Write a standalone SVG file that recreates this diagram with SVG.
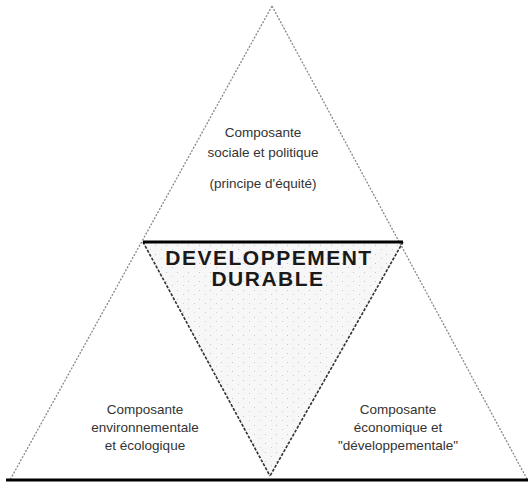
<svg xmlns="http://www.w3.org/2000/svg" width="528" height="483" viewBox="0 0 528 483">
<style>
.lbl{font-family:"Liberation Sans",Arial,sans-serif;font-size:13.5px;fill:#333;text-anchor:middle}
.title{font-family:"Liberation Sans",Arial,sans-serif;font-size:21px;font-weight:bold;fill:#1a1a1a;text-anchor:middle;letter-spacing:1.5px}
.side{stroke:#888;stroke-width:1.3;stroke-dasharray:2 1.5;fill:none}
.inner{stroke:#333;stroke-width:1.6;stroke-dasharray:3 1.5;fill:none}
.heavy{stroke:#000;stroke-width:3;fill:none}
</style>
<defs>
<pattern id="stip" width="11" height="9" patternUnits="userSpaceOnUse">
<rect width="11" height="9" fill="#f7f7f7"/>
<rect x="1" y="2" width="1" height="1" fill="#c4c4c4"/>
<rect x="7" y="6" width="1" height="1" fill="#d0d0d0"/>
</pattern>
</defs>
<rect width="528" height="483" fill="#fff"/>
<g id="centre">
<polygon points="143,242 403,242 270,476" fill="url(#stip)"/>
<text class="title" x="269" y="265">DEVELOPPEMENT</text>
<text class="title" x="268" y="286">DURABLE</text>
</g>
<g id="connectors">
<line class="side" x1="272" y1="6" x2="10" y2="480"/>
<line class="side" x1="272" y1="6" x2="527" y2="479"/>
<line class="inner" x1="143" y1="242" x2="270" y2="476"/>
<line class="inner" x1="403" y1="242" x2="270" y2="476"/>
<line class="heavy" x1="143" y1="242" x2="403" y2="242"/>
<line class="heavy" x1="6" y1="480" x2="528" y2="480"/>
</g>
<g id="sociale">
<text class="lbl" x="263" y="137">Composante</text>
<text class="lbl" x="263" y="157">sociale et politique</text>
<text class="lbl" x="263" y="188">(principe d'équité)</text>
</g>
<g id="environnementale">
<text class="lbl" x="145" y="414">Composante</text>
<text class="lbl" x="145" y="432">environnementale</text>
<text class="lbl" x="145" y="450">et écologique</text>
</g>
<g id="economique">
<text class="lbl" x="398" y="414">Composante</text>
<text class="lbl" x="398" y="432">économique et</text>
<text class="lbl" x="398" y="450">"développementale"</text>
</g>
</svg>
